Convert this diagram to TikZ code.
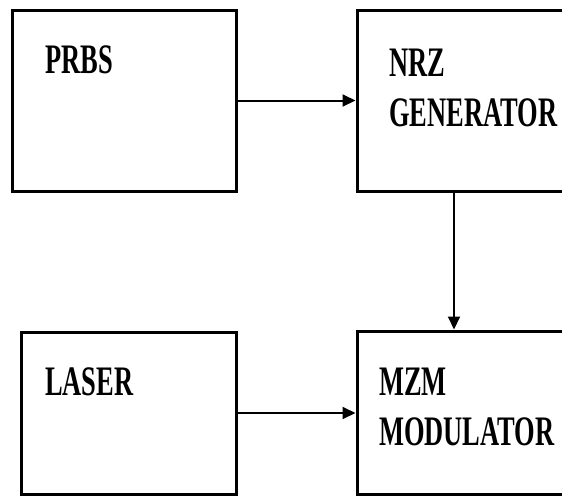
\documentclass[tikz,border=0pt]{standalone}
\usepackage{fontspec}
\setmainfont{Liberation Serif}
\usetikzlibrary{arrows.meta}

\begin{document}
\begin{tikzpicture}[x=1pt,y=-1pt,
    blk/.style={draw,line width=3pt,inner sep=0pt},
    lbl/.style={anchor=base west,xscale=0.63,inner sep=0pt,align=left,
      font=\fontsize{42}{50}\selectfont\bfseries},
    conn/.style={line width=2pt,-{Triangle[length=13pt,width=12pt]}}]
        \useasboundingbox (0,0) rectangle (562,496);
        \clip (0,0) rectangle (562,496);
        % blocks
        \node[blk,minimum width=224pt,minimum height=181pt] (prbs) at (124,100.5) {};
        \node[blk,minimum width=223pt,minimum height=181pt] (nrz) at (468.5,100.5) {};
        \node[blk,minimum width=215pt,minimum height=162pt] (laser) at (128.5,413) {};
        \node[blk,minimum width=223pt,minimum height=163pt] (mzm) at (468.5,412.5) {};
        % texts (base = last line)
        \node[lbl] (prbstxt) at (45,73) {PRBS};
        \node[lbl] (nrztxt) at (389,126) {NRZ\\GENERATOR};
        \node[lbl] (lasertxt) at (45,395) {LASER};
        \node[lbl] (mzmtxt) at (379,445) {MZM\\MODULATOR};
        % links
        \draw[conn] (prbs.east) -- (prbs.east -| nrz.west);
        \draw[conn] ([xshift=-14.5pt]nrz.south) -- ([xshift=-14.5pt]mzm.north);
        \draw[conn] (laser.east) -- (laser.east -| mzm.west);
    \end{tikzpicture}
\end{document}
